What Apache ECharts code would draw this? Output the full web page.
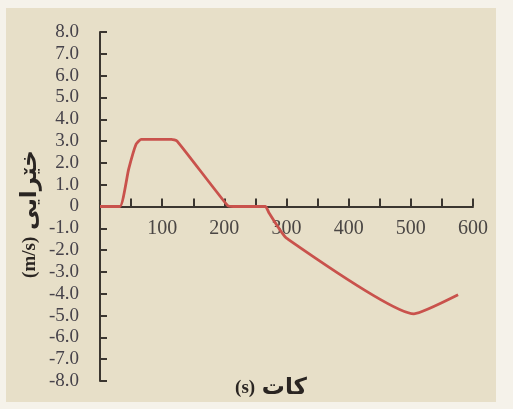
<!DOCTYPE html>
<html>
<head>
<meta charset="utf-8">
<script src="https://cdn.jsdelivr.net/npm/echarts@6/dist/echarts.min.js"></script>
<style>
  html, body { margin: 0; padding: 0; background: #f5f2ea; }
  #chart { width: 513px; height: 409px; }
</style>
</head>
<body>
<div id="chart"></div>
<script>
// Velocity–time readings: time in seconds, velocity in m/s
const times      = [0, 32, 46, 58, 66, 115, 124, 205, 214, 266, 272, 300, 505, 576];
const velocities = [0, 0, 1.7, 2.85, 3.08, 3.08, 3.0, 0.05, 0, 0, -0.3, -1.45, -4.92, -4.05];

const yTicks = [-8, -7, -6, -5, -4, -3, -2, -1, 0, 1, 2, 3, 4, 5, 6, 7, 8];
const xLabels = [100, 200, 300, 400, 500, 600];

// Axis titles: unit and Kurdish word, laid out unit-first from left to right
const yTitleUnit = '(m/s)';
const yTitleWord = 'خێرایی';
const xTitleUnit = '(s)';
const xTitleWord = 'کات';

const points = times.map((t, i) => [t, velocities[i]]);

const numFont = '"Liberation Serif", "DejaVu Serif", serif';
const axisColor = '#3b3630';

const gridTop = 32, gridBottom = 28, plotH = 409 - gridTop - gridBottom;
const yMin = -8, yMax = 8;
// shift the time axis up so it sits on v = 0
const xAxisOffset = -plotH * (0 - yMin) / (yMax - yMin);

const titleRich = {
  u: { fontFamily: '"Liberation Serif", serif', fontWeight: 'bold', fontSize: 19, fill: '#2a2522' },
  a: { fontFamily: '"DejaVu Sans", sans-serif', fontWeight: 'bold', fontSize: 23, fill: '#2a2522' }
};

const chart = echarts.init(document.getElementById('chart'), null, { renderer: 'canvas' });

chart.setOption({
  backgroundColor: '#f5f2ea',
  animation: false,
  grid: { left: 100, right: 40, top: gridTop, bottom: gridBottom, containLabel: false },
  graphic: [
    {
      type: 'rect', z: -10, silent: true,
      shape: { x: 6, y: 8, width: 490, height: 394 },
      style: { fill: '#e7dfc8' }
    },
    {
      type: 'text', silent: true,
      x: 30, y: 214, rotation: Math.PI / 2,
      style: {
        text: '{u|' + yTitleUnit + '}  {a|' + yTitleWord + '}',
        rich: titleRich,
        align: 'center', verticalAlign: 'middle'
      }
    },
    {
      type: 'text', silent: true,
      x: 271, y: 388,
      style: {
        text: '{u|' + xTitleUnit + '}  {a|' + xTitleWord + '}',
        rich: titleRich,
        align: 'center', verticalAlign: 'middle'
      }
    }
  ],
  xAxis: {
    type: 'value',
    min: 0, max: 600, interval: 50,
    position: 'bottom',
    offset: xAxisOffset,
    axisLine: { onZero: false, lineStyle: { color: axisColor, width: 2 } },
    axisTick: { show: true, inside: true, length: 8, lineStyle: { color: axisColor, width: 2 } },
    splitLine: { show: false },
    axisLabel: {
      margin: 12,
      color: '#4a4644',
      fontFamily: numFont,
      fontSize: 20,
      formatter: v => (xLabels.indexOf(v) >= 0 ? String(v) : '')
    }
  },
  yAxis: {
    type: 'value',
    min: yMin, max: yMax, interval: 1,
    axisLine: { lineStyle: { color: axisColor, width: 2 } },
    axisTick: { show: true, inside: true, length: 7, lineStyle: { color: axisColor, width: 2 } },
    splitLine: { show: false },
    axisLabel: {
      margin: 21,
      color: '#46424a',
      fontFamily: numFont,
      fontSize: 19,
      lineHeight: 18,
      formatter: v => (yTicks.indexOf(v) < 0 ? '' : (v === 0 ? '0' : v.toFixed(1)))
    }
  },
  series: [{
    type: 'line',
    data: points,
    smooth: 0.15,
    showSymbol: false,
    lineStyle: { color: '#c9524c', width: 2.8 },
    z: 1
  }]
});
</script>
</body>
</html>
